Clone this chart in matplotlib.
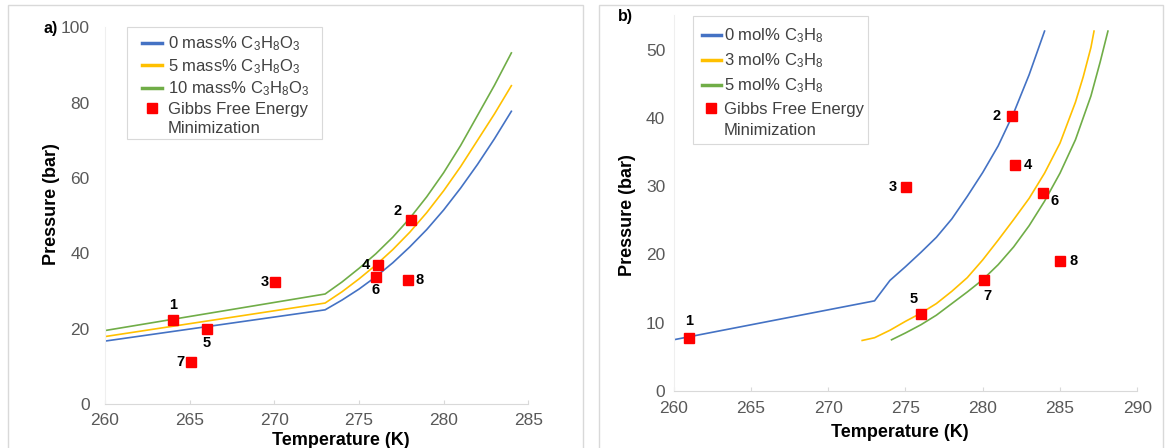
import numpy as np
import matplotlib
matplotlib.use('Agg')
import matplotlib.pyplot as plt
from matplotlib.patches import Rectangle
from matplotlib.lines import Line2D

plt.rcParams['font.family'] = ['Liberation Sans', 'DejaVu Sans']
plt.rcParams['mathtext.fontset'] = 'custom'
plt.rcParams['mathtext.rm'] = 'Liberation Sans'
plt.rcParams['mathtext.it'] = 'Liberation Sans:italic'
plt.rcParams['mathtext.bf'] = 'Liberation Sans:bold'

# ---- a) glycerol (mass%) ----
t_a = [260, 273, 274, 275, 276, 277, 278, 279, 280, 281, 282, 283, 284]
p_a_0 = [16.7, 25.0, 27.6, 30.5, 33.8, 37.5, 41.7, 46.3, 51.5, 57.3, 63.6, 70.4, 77.7]
p_a_5 = [17.9, 26.8, 29.8, 33.2, 36.9, 41.0, 45.6, 50.8, 56.6, 63.0, 70.0, 77.0, 84.5]
p_a_10 = [19.5, 29.2, 32.4, 36.0, 39.9, 44.3, 49.3, 55.0, 61.4, 68.6, 76.6, 84.6, 93.2]
gibbs_a_t = [264.0, 278.05, 270.05, 276.1, 266.0, 276.0, 265.1, 277.9]
gibbs_a_p = [22.3, 48.8, 32.3, 37.0, 19.8, 33.7, 11.1, 33.0]

# ---- b) propane (mol%) ----
t_b_0 = [260, 273, 274, 275, 276, 277, 278, 279, 280, 281, 282, 283, 284]
p_b_0 = [7.5, 13.2, 16.2, 18.2, 20.3, 22.5, 25.2, 28.5, 32.0, 35.9, 40.7, 46.3, 52.7]
t_b_3 = [272.2, 273, 274, 275, 276, 277, 278, 279, 280, 281, 282, 283, 284, 285, 286, 286.5, 287, 287.2]
p_b_3 = [7.4, 7.8, 8.9, 10.2, 11.4, 12.8, 14.6, 16.6, 19.2, 22.1, 25.1, 28.2, 31.9, 36.3, 42.3, 46.0, 50.3, 52.7]
t_b_5 = [274.1, 275, 276, 277, 278, 279, 280, 281, 282, 283, 284, 285, 286, 287, 287.6, 288.1]
p_b_5 = [7.5, 8.5, 9.7, 11.1, 12.8, 14.5, 16.3, 18.5, 21.1, 24.2, 27.8, 31.9, 36.8, 43.2, 48.2, 52.7]
gibbs_b_t = [261.0, 281.9, 275.05, 282.1, 276.0, 283.9, 280.1, 285.0]
gibbs_b_p = [7.8, 40.3, 29.9, 33.1, 11.3, 29.0, 16.2, 19.0]

point_labels = ['1', '2', '3', '4', '5', '6', '7', '8']

BLUE = '#4472C4'
YELLOW = '#FFC000'
GREEN = '#70AD47'
GRAY = '#595959'

W, H = 1165, 448
fig = plt.figure(figsize=(W / 100, H / 100), dpi=100)


def px(x, y):
    return x / W, 1 - y / H


# panel frames
for x0, x1 in [(7.5, 583.5), (599, 1162.5)]:
    fig.patches.append(Rectangle(px(x0, 452), (x1 - x0) / W, 447 / H,
                                 transform=fig.transFigure, fill=False,
                                 edgecolor='#D9D9D9', linewidth=1.0))

ax1 = fig.add_axes([105 / W, 44 / H, 423.3 / W, 376.7 / H])
ax2 = fig.add_axes([673.6 / W, 57 / H, 463.7 / W, 375.6 / H])


def style(ax, ypad, xpad):
    for s in ['top', 'right']:
        ax.spines[s].set_visible(False)
    ax.spines['bottom'].set_color('#D9D9D9')
    ax.spines['left'].set_color('#EFEFEF')
    ax.tick_params(axis='x', colors='#D9D9D9', labelcolor=GRAY, labelsize=12.5,
                   direction='in', length=3, pad=xpad)
    ax.tick_params(axis='y', labelcolor=GRAY, labelsize=12.5, length=0, pad=ypad)


def legend_box(ax, x0, y0, x1, y1):
    ax.add_patch(Rectangle(px(x0, y1), (x1 - x0) / W, (y1 - y0) / H,
                           transform=fig.transFigure, facecolor='white',
                           edgecolor='#D9D9D9', linewidth=0.8, zorder=4,
                           clip_on=False))


ax1.plot(t_a, p_a_0, color=BLUE, lw=1.2, label='0 mass% C$_3$H$_8$O$_3$')
ax1.plot(t_a, p_a_5, color=YELLOW, lw=1.2, label='5 mass% C$_3$H$_8$O$_3$')
ax1.plot(t_a, p_a_10, color=GREEN, lw=1.2, label='10 mass% C$_3$H$_8$O$_3$')
ax1.plot(gibbs_a_t, gibbs_a_p, 's', color='#FF0000', ms=7.5, ls='none',
         label='Gibbs Free Energy')
ax1.set_xlim(260, 285)
ax1.set_ylim(0, 100)
ax1.set_xticks(np.arange(260, 286, 5))
ax1.set_yticks(np.arange(0, 101, 20))
style(ax1, 11, 6.5)

offs_a = [(0, 11), (-9.5, 6.5), (-7.5, 0), (-8.5, 0), (0, -10), (0, -9.5), (-7.5, 0), (8.5, 0)]
for t, p, s, o in zip(gibbs_a_t, gibbs_a_p, point_labels, offs_a):
    ax1.annotate(s, (t, p), xytext=o, textcoords='offset points', ha='center',
                 va='center', fontsize=10.5, fontweight='bold')

ax2.plot(t_b_0, p_b_0, color=BLUE, lw=1.2, label='0 mol% C$_3$H$_8$')
ax2.plot(t_b_3, p_b_3, color=YELLOW, lw=1.2, label='3 mol% C$_3$H$_8$')
ax2.plot(t_b_5, p_b_5, color=GREEN, lw=1.2, label='5 mol% C$_3$H$_8$')
ax2.plot(gibbs_b_t, gibbs_b_p, 's', color='#FF0000', ms=7.5, ls='none',
         label='Gibbs Free Energy')
ax2.set_xlim(260, 290)
ax2.set_ylim(0, 55)
ax2.set_xticks(np.arange(260, 291, 5))
ax2.set_yticks(np.arange(0, 51, 10))
style(ax2, 6, 7)

offs_b = [(0, 12), (-11, 0), (-9.5, 0), (9, 0), (-5, 10.5), (8, -5.5), (2.5, -11.5), (9.5, 0)]
for t, p, s, o in zip(gibbs_b_t, gibbs_b_p, point_labels, offs_b):
    ax2.annotate(s, (t, p), xytext=o, textcoords='offset points', ha='center',
                 va='center', fontsize=10.5, fontweight='bold')

# legends: second line of the Gibbs label is its own row, as in the original
for ax, anchor, lsp, htp, hl, box in [
        (ax1, (141.7, 34.8), 0.22, 0.36, 1.2, (126.7, 27.3, 321.7, 139.3)),
        (ax2, (701.8, 26.5), 0.38, 0.18, 1.15, (692.7, 16, 868, 144))]:
    h, l = ax.get_legend_handles_labels()
    h.append(Line2D([], [], ls='none'))
    l.append('Minimization')
    legend_box(ax, *box)
    leg = ax.legend(h, l, loc='upper left', bbox_to_anchor=px(*anchor),
                    bbox_transform=fig.transFigure, borderaxespad=0, borderpad=0,
                    fontsize=12, handlelength=hl, handletextpad=htp,
                    labelspacing=lsp, frameon=False, labelcolor='#404040')
    leg.set_zorder(5)
    for ln in leg.get_lines()[:3]:
        ln.set_linewidth(2.5)

# axis titles (Excel style placement)
fig.text(*px(341, 440), 'Temperature (K)', ha='center', va='center', fontsize=13, fontweight='bold')
fig.text(*px(900, 432), 'Temperature (K)', ha='center', va='center', fontsize=13, fontweight='bold')
fig.text(*px(52, 204), 'Pressure (bar)', ha='center', va='center', rotation=90, fontsize=13, fontweight='bold')
fig.text(*px(627, 215), 'Pressure (bar)', ha='center', va='center', rotation=90, fontsize=13, fontweight='bold')
fig.text(*px(51, 28), 'a)', ha='center', va='center', fontsize=11.5, fontweight='bold')
fig.text(*px(625, 17), 'b)', ha='center', va='center', fontsize=11.5, fontweight='bold')

fig.savefig('out.png', dpi=100)
